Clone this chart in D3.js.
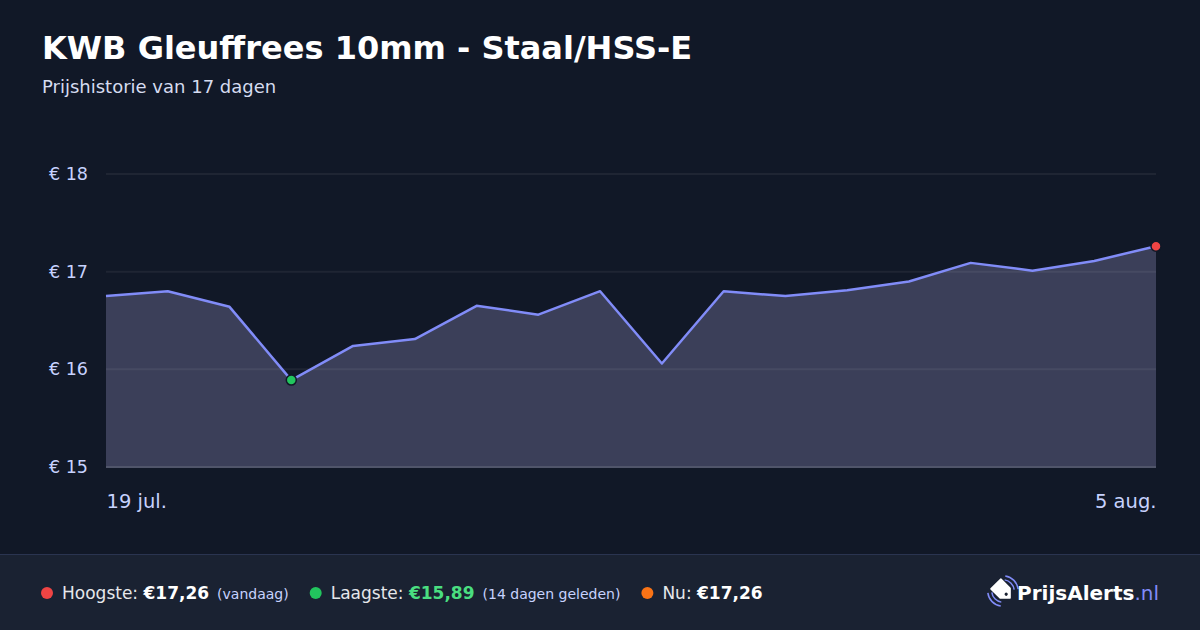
<!DOCTYPE html>
<html lang="nl">
<head>
    <meta charset="UTF-8">
    <title>KWB Gleuffrees 10mm - Prijshistorie</title>
    <script src="https://d3js.org/d3.v7.min.js"></script>
    <style>
        html, body {
            margin: 0;
            padding: 0;
            background: #111827;
            font-family: "DejaVu Sans", sans-serif;
        }
        svg { display: block; }
    </style>
</head>
<body>
    <div id="chart"></div>

    <script>
        // Price history, 19 jul. to 5 aug. (one point per day)
        const days = ["19 jul.", "20 jul.", "21 jul.", "22 jul.", "23 jul.", "24 jul.",
            "25 jul.", "26 jul.", "27 jul.", "28 jul.", "29 jul.", "30 jul.",
            "31 jul.", "1 aug.", "2 aug.", "3 aug.", "4 aug.", "5 aug."];
        const prices = [16.75, 16.80, 16.64, 15.89, 16.24, 16.31, 16.65, 16.56, 16.80,
            16.06, 16.80, 16.75, 16.81, 16.90, 17.09, 17.01, 17.11, 17.26];
        const yTicks = [15, 16, 17, 18];
        const xTickLabels = ["19 jul.", "5 aug."];

        const width = 1200, height = 630;
        const margin = { left: 106, right: 44, top: 174, bottom: 163 };

        const svg = d3.select("#chart")
            .append("svg")
            .attr("width", width)
            .attr("height", height);

        svg.append("rect")
            .attr("width", width).attr("height", height)
            .attr("fill", "#111827");

        // Title block
        svg.append("text")
            .attr("x", 42).attr("y", 59)
            .attr("fill", "#ffffff")
            .attr("font-size", 32).attr("font-weight", "bold")
            .text("KWB Gleuffrees 10mm - Staal/HSS-E");

        svg.append("text")
            .attr("x", 42).attr("y", 93)
            .attr("fill", "#d6dcf0")
            .attr("font-size", 18)
            .text("Prijshistorie van 17 dagen");

        // Scales
        const x = d3.scalePoint()
            .domain(days)
            .range([margin.left, width - margin.right]);

        const y = d3.scaleLinear()
            .domain([15, 18])
            .range([height - margin.bottom, margin.top]);

        const data = days.map((d, i) => ({ day: d, price: prices[i] }));

        // Area fill
        const area = d3.area()
            .x(d => x(d.day))
            .y0(y(15))
            .y1(d => y(d.price));

        svg.append("path")
            .datum(data)
            .attr("d", area)
            .attr("fill", "#3b3f59");

        // Grid lines (drawn on top of area, semi transparent)
        svg.append("g")
            .selectAll("line")
            .data(yTicks.filter(t => t !== 15))
            .join("line")
            .attr("x1", margin.left).attr("x2", width - margin.right)
            .attr("y1", d => y(d)).attr("y2", d => y(d))
            .attr("stroke", "rgba(255,255,255,0.06)")
            .attr("stroke-width", 2);

        // Baseline
        svg.append("line")
            .attr("x1", margin.left).attr("x2", width - margin.right)
            .attr("y1", y(15)).attr("y2", y(15))
            .attr("stroke", "#50556a")
            .attr("stroke-width", 2);

        // Y axis labels
        const yAxis = d3.axisLeft(y)
            .tickValues(yTicks)
            .tickSize(0)
            .tickPadding(18)
            .tickFormat(d => "€ " + d);

        svg.append("g")
            .attr("transform", `translate(${margin.left},0)`)
            .call(yAxis)
            .call(g => g.select(".domain").remove())
            .call(g => g.selectAll("text")
                .attr("fill", "#c7d2fe")
                .attr("font-size", 17.5)
                .attr("font-family", "DejaVu Sans, sans-serif"));

        // X axis labels (first and last only)
        const xAxis = d3.axisBottom(x)
            .tickValues(xTickLabels)
            .tickSize(0)
            .tickPadding(27);

        svg.append("g")
            .attr("transform", `translate(0,${y(15)})`)
            .call(xAxis)
            .call(g => g.select(".domain").remove())
            .call(g => g.selectAll("text")
                .attr("fill", "#c7d2fe")
                .attr("font-size", 19.5)
                .attr("font-family", "DejaVu Sans, sans-serif")
                .attr("text-anchor", (d, i) => i === 0 ? "start" : "end"));

        // Price line
        const line = d3.line()
            .x(d => x(d.day))
            .y(d => y(d.price));

        svg.append("path")
            .datum(data)
            .attr("d", line)
            .attr("fill", "none")
            .attr("stroke", "#818cf8")
            .attr("stroke-width", 2.5)
            .attr("stroke-linejoin", "round");

        // Min and max markers
        const minIdx = d3.minIndex(prices);
        const maxIdx = d3.maxIndex(prices);

        svg.append("circle")
            .attr("cx", x(days[minIdx])).attr("cy", y(prices[minIdx]))
            .attr("r", 5)
            .attr("fill", "#22c55e")
            .attr("stroke", "#111827").attr("stroke-width", 1.5);

        svg.append("circle")
            .attr("cx", x(days[maxIdx])).attr("cy", y(prices[maxIdx]))
            .attr("r", 5)
            .attr("fill", "#ef4444")
            .attr("stroke", "#111827").attr("stroke-width", 1.5);

        // Footer
        const footerY = 554;
        svg.append("rect")
            .attr("x", 0).attr("y", footerY)
            .attr("width", width).attr("height", height - footerY)
            .attr("fill", "#1a2232");
        svg.append("line")
            .attr("x1", 0).attr("x2", width)
            .attr("y1", footerY + 0.5).attr("y2", footerY + 0.5)
            .attr("stroke", "#2a3450");

        const fmt = v => "€" + v.toFixed(2).replace(".", ",");
        const daysAgo = prices.length - 1 - minIdx;

        const legendItems = [
            { dot: "#ef4444", label: "Hoogste: ", value: fmt(prices[maxIdx]), valueColor: "#ffffff", note: "(vandaag)" },
            { dot: "#22c55e", label: "Laagste: ", value: fmt(prices[minIdx]), valueColor: "#4ade80", note: `(${daysAgo} dagen geleden)` },
            { dot: "#f97316", label: "Nu: ", value: fmt(prices[prices.length - 1]), valueColor: "#ffffff", note: null }
        ];

        const baseY = 599;
        let cursor = 42;
        legendItems.forEach(item => {
            svg.append("circle")
                .attr("cx", cursor + 5).attr("cy", baseY - 6)
                .attr("r", 6)
                .attr("fill", item.dot);
            cursor += 20;

            const t = svg.append("text")
                .attr("x", cursor).attr("y", baseY)
                .attr("font-size", 17)
                .attr("fill", "#e5e7eb");
            t.append("tspan").text(item.label);
            t.append("tspan")
                .attr("font-weight", "bold")
                .attr("fill", item.valueColor)
                .text(item.value);
            if (item.note) {
                t.append("tspan")
                    .attr("dx", 8)
                    .attr("font-size", 14)
                    .attr("fill", "#c7d2fe")
                    .text(item.note);
            }
            cursor += t.node().getBBox().width + 22;
        });

        // Logo: price tag with signal waves
        const logo = svg.append("g").attr("transform", "translate(1003,591)");
        const tag = logo.append("g").attr("transform", "rotate(-45)");
        tag.append("path")
            .attr("d", "M-7,-10 L7,-10 L7,3 L0,10 L-7,3 Z")
            .attr("fill", "#ffffff")
            .attr("stroke", "#ffffff")
            .attr("stroke-width", 1.5)
            .attr("stroke-linejoin", "round");
        tag.append("circle")
            .attr("cx", 0).attr("cy", 4.5).attr("r", 1.6)
            .attr("fill", "#1a2232");
        [10.5, 14.5].forEach(r => {
            logo.append("path")
                .attr("d", d3.arc()({ innerRadius: r, outerRadius: r + 1.5, startAngle: 0.15, endAngle: 1.45 }))
                .attr("fill", "#818cf8");
            logo.append("path")
                .attr("d", d3.arc()({ innerRadius: r, outerRadius: r + 1.5, startAngle: Math.PI + 0.15, endAngle: Math.PI + 1.45 }))
                .attr("fill", "#818cf8");
        });

        const brand = svg.append("text")
            .attr("x", 1159).attr("y", 600)
            .attr("text-anchor", "end")
            .attr("font-size", 20);
        brand.append("tspan")
            .attr("font-weight", "bold")
            .attr("fill", "#ffffff")
            .text("PrijsAlerts");
        brand.append("tspan")
            .attr("fill", "#818cf8")
            .text(".nl");
    </script>
</body>
</html>
